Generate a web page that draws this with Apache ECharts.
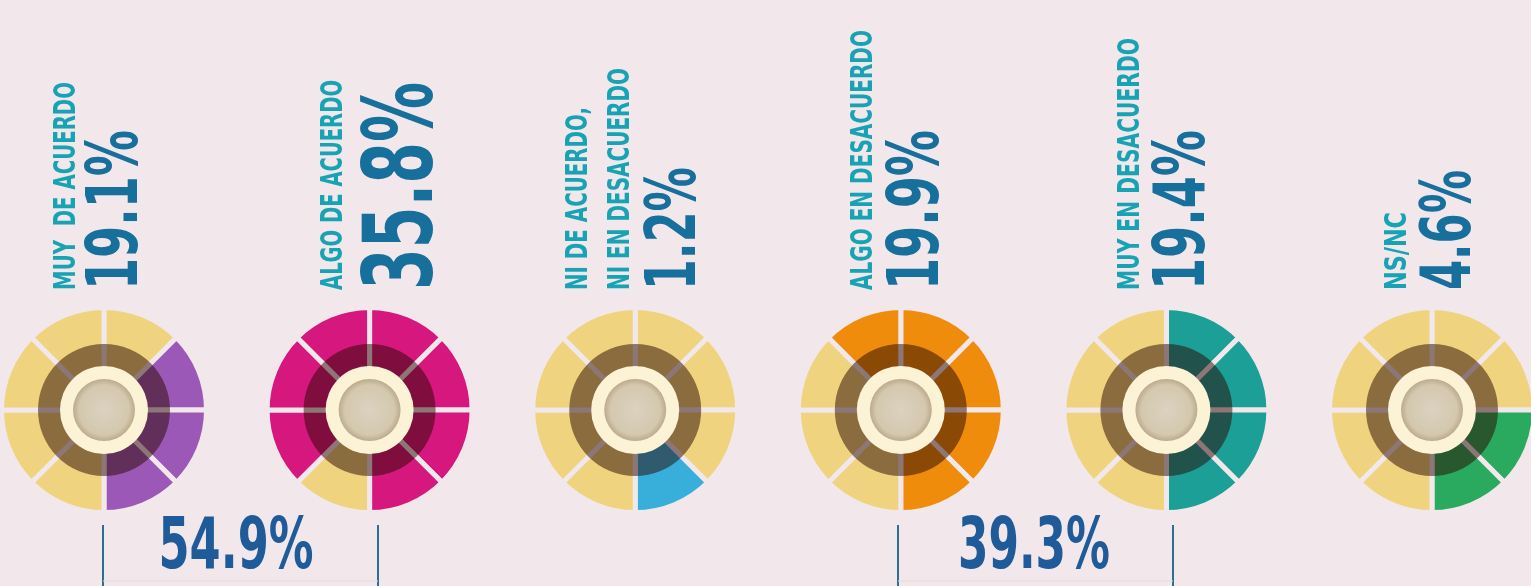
<!DOCTYPE html>
<html>
<head>
<meta charset="utf-8">
<title>Grado de acuerdo</title>
<script src="https://cdn.jsdelivr.net/npm/echarts@6/dist/echarts.min.js"></script>
<style>
  html, body { margin: 0; padding: 0; background: #f2e8ec; }
  #main { width: 1531px; height: 586px; }
</style>
</head>
<body>
<div id="main"></div>
<script>
// datos
var categorias = [['MUY  DE ACUERDO'], ['ALGO DE ACUERDO'], ['NI DE ACUERDO,', 'NI EN DESACUERDO'],
                  ['ALGO EN DESACUERDO'], ['MUY EN DESACUERDO'], ['NS/NC']]
var porcentajes = [19.1, 35.8, 1.2, 19.9, 19.4, 4.6]
var segmentosLlenos = [3, 7, 1, 5, 4, 2]
var totalSegmentos = 8
var totales = [54.9, 39.3]

// estilos
var colores = ['#9c58b6', '#d6177d', '#38afdb', '#ef8c0c', '#1b9f96', '#2aaa5f']
var amarillo = '#efd37e'
var fondo = '#f2e8ec'
var crema = '#fcf3d6'
var colorCat = '#17a3b3'
var colorVal = '#176f9b'
var colorTotal = '#1f5b98'
var fuente = '"Liberation Sans Narrow", "DejaVu Sans Condensed", Roboto, sans-serif'

// layout
var cx0 = 104, paso = 265.6, cy = 410
var base = 290
var layoutCat = [
  [{x: 64, top: 82}],
  [{x: 331, top: 80}],
  [{x: 576, top: 107}, {x: 618, top: 68}],
  [{x: 861, top: 30}],
  [{x: 1128, top: 38}],
  [{x: 1395, top: 212}]
]
var layoutVal = [
  {x: 111, top: 130, cap: 56},
  {x: 397, top: 82, cap: 75},
  {x: 670, top: 167, cap: 54},
  {x: 912, top: 130, cap: 55},
  {x: 1178, top: 130, cap: 55},
  {x: 1445, top: 170, cap: 54}
]
var grupos = [
  {x1: 103, x2: 378, cx: 236, ancho: 155},
  {x1: 898, x2: 1173, cx: 1034, ancho: 152}
]

var ctx = document.createElement('canvas').getContext('2d')
function medir (texto, size) {
  ctx.font = 'bold ' + size + 'px ' + fuente
  return ctx.measureText(texto).width
}

// texto girado 90 grados, leido de abajo hacia arriba
function textoVertical (texto, x, top, cap, color, factor) {
  var size = Math.round(cap / factor)
  return {
    type: 'text', x: x + size * 0.1, y: base, rotation: Math.PI / 2,
    scaleX: (base - top) / medir(texto, size), silent: true,
    style: { text: texto, fontSize: size, fontWeight: 'bold', fontFamily: fuente,
      fill: color, align: 'left', verticalAlign: 'middle' }
  }
}

var comun = {
  type: 'pie', silent: true, animation: false, startAngle: 90, clockwise: true,
  avoidLabelOverlap: false, label: { show: false }, labelLine: { show: false },
  emphasis: { disabled: true }
}

var series = []
var graficos = []
for (var i = 0; i < categorias.length; i++) {
  var centro = [cx0 + i * paso, cy]
  // se llena desde las 6 en punto en sentido antihorario
  var llenos = {}
  for (var j = 0; j < segmentosLlenos[i]; j++) {
    llenos[(3 - j + totalSegmentos) % totalSegmentos] = true
  }
  var datos = []
  for (var k = 0; k < totalSegmentos; k++) {
    datos.push({ value: 1, itemStyle: { color: llenos[k] ? colores[i] : amarillo } })
  }
  series.push(Object.assign({}, comun, {
    center: centro, radius: [40, 102.5], data: datos,
    itemStyle: { borderColor: fondo, borderWidth: 5 }
  }))
  series.push(Object.assign({}, comun, {
    center: centro, radius: [40, 66], data: [{ value: 1 }],
    itemStyle: { color: 'rgba(40,5,0,0.5)' }
  }))
  series.push(Object.assign({}, comun, {
    center: centro, radius: [0, 44], data: [{ value: 1 }],
    itemStyle: { color: crema }
  }))
  series.push(Object.assign({}, comun, {
    center: centro, radius: [0, 31], data: [{ value: 1 }],
    itemStyle: {
      color: { type: 'radial', x: 0.5, y: 0.5, r: 0.5, colorStops: [
        { offset: 0, color: '#dbd2c0' }, { offset: 0.8, color: '#d4c8ae' }, { offset: 1, color: '#bcab8e' }] }
    }
  }))

  categorias[i].forEach(function (linea, n) {
    var l = layoutCat[i][n]
    graficos.push(textoVertical(linea, l.x, l.top, 22, colorCat, 0.74))
  })
  var v = layoutVal[i]
  graficos.push(textoVertical(porcentajes[i].toFixed(1) + '%', v.x, v.top, v.cap, colorVal, 0.78))
}

grupos.forEach(function (g, n) {
  var txt = totales[n].toFixed(1) + '%'
  graficos.push({ type: 'line', silent: true, shape: { x1: g.x1, y1: 525, x2: g.x1, y2: 586 },
    style: { stroke: '#2a6f96', lineWidth: 2 } })
  graficos.push({ type: 'line', silent: true, shape: { x1: g.x2, y1: 525, x2: g.x2, y2: 586 },
    style: { stroke: '#2a6f96', lineWidth: 2 } })
  graficos.push({ type: 'line', silent: true, shape: { x1: g.x1, y1: 581, x2: g.x2, y2: 581 },
    style: { stroke: '#e6d9dc', lineWidth: 1 } })
  graficos.push({
    type: 'text', x: g.cx, y: 549, silent: true,
    scaleX: g.ancho / medir(txt, 72),
    style: { text: txt, fontSize: 72, fontWeight: 'bold', fontFamily: fuente,
      fill: colorTotal, align: 'center', verticalAlign: 'middle' }
  })
})

var chart = echarts.init(document.getElementById('main'))
chart.setOption({
  backgroundColor: fondo,
  animation: false,
  series: series,
  graphic: graficos
})
</script>
</body>
</html>
